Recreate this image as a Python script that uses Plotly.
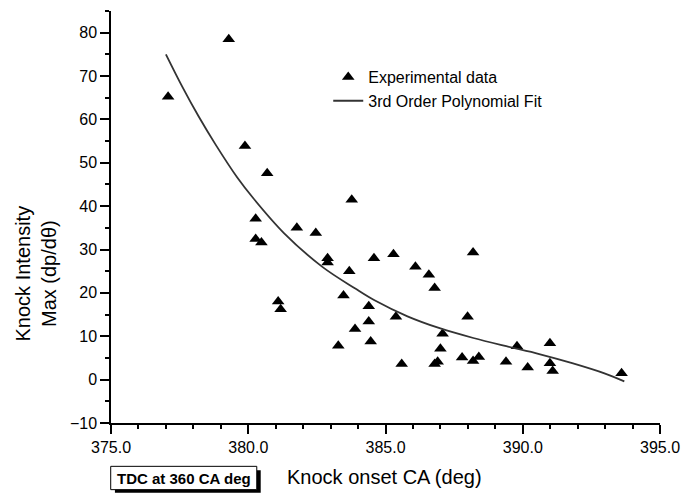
import plotly.graph_objects as go

onset_ca = [377.08, 379.29, 379.88, 380.69, 380.27, 380.27, 380.48, 381.09, 381.18,
            381.77, 382.46, 382.89, 382.89, 383.77, 383.68, 383.47, 383.28, 383.89,
            384.39, 384.39, 384.46, 384.58, 385.29, 385.38, 385.59, 386.09, 386.58,
            386.79, 386.79, 386.90, 387.00, 387.08, 387.79, 387.99, 388.19, 388.19,
            388.40, 389.39, 389.79, 390.18, 390.99, 390.99, 391.09, 393.60]
knock_max = [65.2, 78.5, 53.9, 47.6, 37.1, 32.4, 31.6, 18.0, 16.2,
             35.0, 33.8, 28.0, 27.0, 41.5, 25.0, 19.4, 7.8, 11.7,
             16.9, 13.4, 8.8, 28.0, 28.9, 14.5, 3.6, 26.0, 24.2,
             21.1, 3.6, 4.1, 7.1, 10.6, 5.1, 14.5, 29.3, 4.3,
             5.2, 4.1, 7.7, 2.8, 8.4, 3.8, 2.0, 1.5]

# 3rd order polynomial fit curve
fit_x = [377.0, 377.6, 378.2, 378.8, 379.6, 380.2, 381.3, 382.7, 383.9, 384.6,
         385.8, 387.0, 388.2, 389.4, 390.6, 391.8, 393.0, 393.7]
fit_y = [75.0, 67.5, 60.6, 54.3, 46.6, 41.7, 33.8, 26.0, 21.0, 18.3,
         14.6, 11.8, 9.6, 7.7, 5.9, 3.8, 1.4, -0.4]

x_ticks = [375, 380, 385, 390, 395]
y_ticks = [-10, 0, 10, 20, 30, 40, 50, 60, 70, 80]

FONT = "Arial, Liberation Sans, sans-serif"

W, H = 691, 493
L, T = 111, 11
R, B = 691 - 669.5, 493 - 422.7
pw, ph = W - L - R, H - T - B


def px_x(p):
    return (p - L) / pw


def px_y(p):
    return (H - B - p) / ph


fig = go.Figure()
fig.add_trace(go.Scatter(
    x=onset_ca, y=knock_max, mode="markers", name="Experimental data",
    marker=dict(symbol="triangle-up", size=11, color="black", line=dict(width=0)),
))
fig.add_trace(go.Scatter(
    x=fit_x, y=fit_y, mode="lines", name="3rd Order Polynomial Fit",
    line=dict(color="#333333", width=1.8, shape="spline"),
))

fig.update_layout(
    width=W, height=H,
    margin=dict(l=L, r=R, t=T, b=B),
    paper_bgcolor="white", plot_bgcolor="white",
    font=dict(family=FONT, size=16, color="black"),
    showlegend=True,
    legend=dict(x=px_x(332), y=px_y(60), xanchor="left", yanchor="top",
                bgcolor="rgba(0,0,0,0)", borderwidth=0,
                font=dict(size=16, family=FONT), tracegroupgap=0,
                itemwidth=30),
    xaxis=dict(range=[375, 395], tickvals=x_ticks,
               ticktext=[f"{v:.1f}" for v in x_ticks],
               showline=True, linecolor="black", linewidth=1.5,
               ticks="outside", ticklen=9, tickwidth=1.5, tickcolor="black",
               showgrid=False, zeroline=False,
               minor=dict(ticks="outside", ticklen=4.5, dtick=1, tick0=375,
                          tickwidth=1.5, tickcolor="black", showgrid=False),
               tickfont=dict(size=16)),
    yaxis=dict(range=[-10, 85], tickvals=y_ticks,
               showline=True, linecolor="black", linewidth=1.5,
               ticks="outside", ticklen=9, tickwidth=1.5, tickcolor="black",
               showgrid=False, zeroline=False,
               minor=dict(ticks="outside", ticklen=4.5, dtick=5, tick0=-10,
                          tickwidth=1.5, tickcolor="black", showgrid=False),
               tickfont=dict(size=16)),
)

# TDC box with drop shadow
fig.add_shape(type="rect", xref="paper", yref="paper",
              x0=px_x(115), x1=px_x(263.3), y0=px_y(492.5), y1=px_y(470),
              fillcolor="black", line=dict(width=0))
fig.add_shape(type="rect", xref="paper", yref="paper",
              x0=px_x(110.7), x1=px_x(259.3), y0=px_y(489.3), y1=px_y(466),
              fillcolor="white", line=dict(color="black", width=1))
fig.add_annotation(xref="paper", yref="paper", x=px_x(185), y=px_y(477.8),
                   text="<b>TDC at 360 CA deg</b>", showarrow=False,
                   font=dict(family="Liberation Sans Narrow, Arial Narrow, Arial, Liberation Sans", size=15),
                   xanchor="center", yanchor="middle")

# Axis titles
fig.add_annotation(xref="paper", yref="paper", x=px_x(389), y=px_y(476.7),
                   text="Knock onset CA (deg)", showarrow=False,
                   font=dict(family=FONT, size=20), xanchor="center", yanchor="middle")
fig.add_annotation(xref="paper", yref="paper", x=px_x(35), y=px_y(273),
                   text="Knock Intensity<br>Max (dp/d\u03b8)", showarrow=False,
                   textangle=-90, font=dict(family=FONT, size=20),
                   xanchor="center", yanchor="middle")

fig.write_html("out.html",
               config={"displayModeBar": False},
               post_script="document.body.style.margin='0';document.body.style.overflow='hidden';")
